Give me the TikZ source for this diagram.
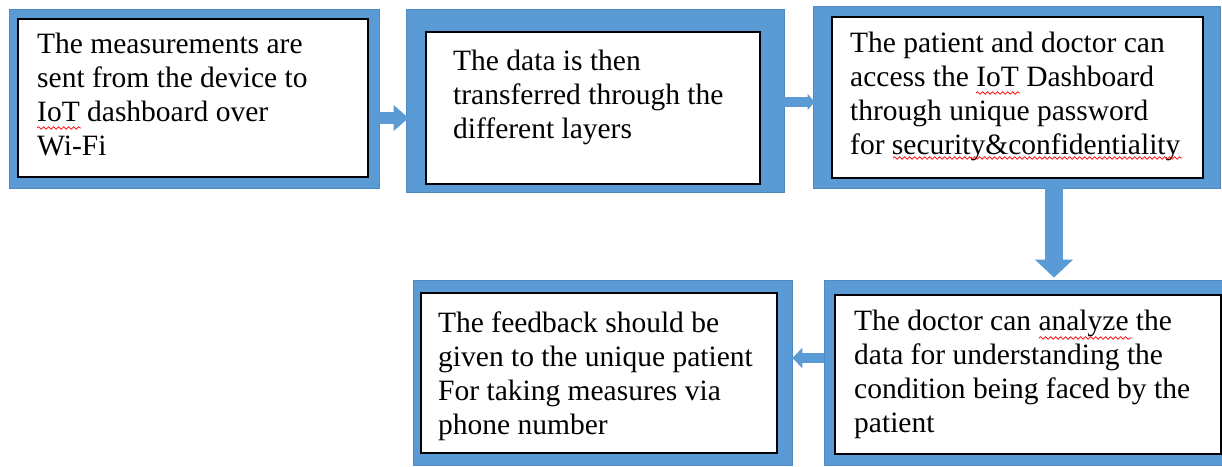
\documentclass[tikz,border=0pt]{standalone}
\usepackage{fontspec}
\setmainfont{Liberation Serif}
\usetikzlibrary{arrows.meta,fit,decorations.pathmorphing}
\definecolor{boxblue}{HTML}{5B9BD5}
\definecolor{boxedge}{HTML}{4F8AC4}
\newcommand{\mylines}[1]{\begin{tabular}[t]{@{}l@{}}#1\end{tabular}}
\tikzset{
  outerbox/.style={rectangle, fill=boxblue, draw=boxedge, line width=0.8pt, inner sep=0pt},
  innerbox/.style={rectangle, fill=white, draw=black, line width=1.5pt, inner sep=0pt},
  txt/.style={anchor=base west, inner sep=0pt, font=\fontsize{29.5}{34}\selectfont},
  flowarrow/.style={draw=boxblue, line width=#1},
  squig/.style={draw=red, line width=0.7pt, decorate, decoration={snake, segment length=5pt, amplitude=1.3pt}}
}
\begin{document}
\begin{tikzpicture}[x=1pt,y=-1pt]
\clip (0,0) rectangle (1222,466);
\fill[white] (0,0) rectangle (1222,466);
% outer blue boxes
\node[outerbox, fit={(9,9) (379,188)}] (b1) {};
\node[outerbox, fit={(406,9) (784,192)}] (b2) {};
\node[outerbox, fit={(813,6) (1220,188)}] (b3) {};
\node[outerbox, fit={(824,280) (1236,465)}] (b4) {};
\node[outerbox, fit={(413,280) (792,465)}] (b5) {};
% inner white boxes
\node[innerbox, fit={(18,19) (368,177)}] (i1) {};
\node[innerbox, fit={(426,32) (760,184)}] (i2) {};
\node[innerbox, fit={(832,17) (1203,178)}] (i3) {};
\node[innerbox, fit={(835,295) (1221,454)}] (i4) {};
\node[innerbox, fit={(421,293) (777,453)}] (i5) {};
% texts
\node[txt] (t1) at (37,53) {\mylines{The measurements are\\sent from the device to\\IoT dashboard over\\Wi-Fi}};
\node[txt] (t2) at (453,70) {\mylines{The data is then\\transferred through the\\different layers}};
\node[txt] (t3) at (850,52) {\mylines{The patient and doctor can\\access the IoT Dashboard\\through unique password\\for security\&confidentiality}};
\node[txt] (t4) at (854,330) {\mylines{The doctor can analyze the\\data for understanding the\\condition being faced by the\\patient}};
\node[txt] (t5) at (438,332) {\mylines{The feedback should be\\given to the unique patient\\For taking measures via\\phone number}};
% spell-check squiggles
\draw[squig] (37,128) -- (81,128);
\draw[squig] (976,93) -- (1020,93);
\draw[squig] (893,158) -- (1182,158);
\draw[squig] (1039,338) -- (1132,338);
% block arrows
\draw[flowarrow=12pt, -{Triangle[length=15pt,width=25pt]}, boxblue]
  ([yshift=-19.5pt]b1.east) -- ([xshift=3pt,yshift=-17.5pt]b2.west);
\draw[flowarrow=10pt, -{Triangle[length=7pt,width=16pt]}, boxblue]
  ([yshift=-1.5pt]b2.east) -- ([xshift=2pt,yshift=-5pt]b3.west);
\draw[flowarrow=18pt, -{Triangle[length=18pt,width=37pt]}, boxblue]
  ([xshift=37.5pt]b3.south) -- ([xshift=24pt,yshift=2pt]b4.north);
\draw[flowarrow=10pt, -{Triangle[length=10pt,width=20pt]}, boxblue]
  ([yshift=14.5pt]b4.west) -- ([yshift=14.5pt]b5.east);
\end{tikzpicture}
\end{document}
